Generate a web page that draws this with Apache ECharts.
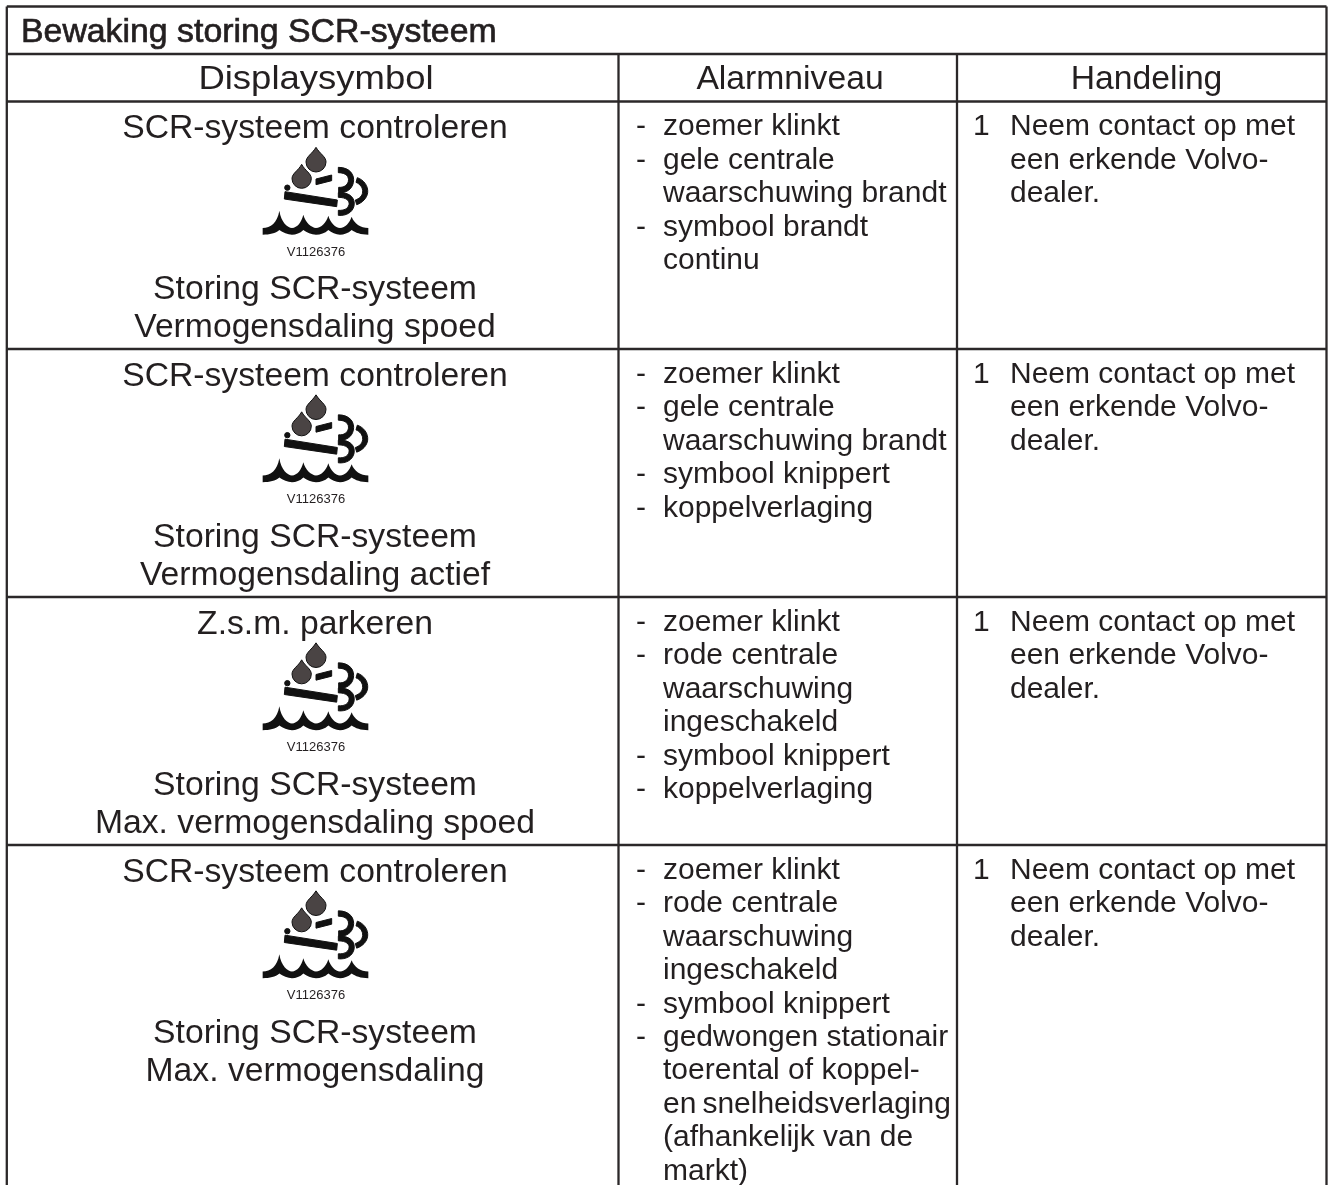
<!DOCTYPE html>
<html>

<head>
    <meta charset="utf-8">
    <title>Bewaking storing SCR-systeem</title>
    <style>
        html, body { margin: 0; padding: 0; background: #fff; }
    </style>
</head>

<body>
    <div id="main" style="width: 1331px;height:1185px;"></div>

    <script src="https://cdnjs.cloudflare.com/ajax/libs/echarts/6.0.0/echarts.min.js"></script>
    <script>
        var title = 'Bewaking storing SCR-systeem';
        var columns = ['Displaysymbol', 'Alarmniveau', 'Handeling'];
        var symbolTop = ['SCR-systeem controleren', 'SCR-systeem controleren', 'Z.s.m. parkeren', 'SCR-systeem controleren'];
        var symbolCode = 'V1126376';
        var symbolBottom = [
            ['Storing SCR-systeem', 'Vermogensdaling spoed'],
            ['Storing SCR-systeem', 'Vermogensdaling actief'],
            ['Storing SCR-systeem', 'Max. vermogensdaling spoed'],
            ['Storing SCR-systeem', 'Max. vermogensdaling']
        ];
        // '- ' at the start of a line means a new bullet
        var alarms = [
            ['- zoemer klinkt', '- gele centrale', 'waarschuwing brandt', '- symbool brandt', 'continu'],
            ['- zoemer klinkt', '- gele centrale', 'waarschuwing brandt', '- symbool knippert', '- koppelverlaging'],
            ['- zoemer klinkt', '- rode centrale', 'waarschuwing', 'ingeschakeld', '- symbool knippert', '- koppelverlaging'],
            ['- zoemer klinkt', '- rode centrale', 'waarschuwing', 'ingeschakeld', '- symbool knippert', '- gedwongen stationair',
                'toerental of koppel-', 'en\u2009snelheidsverlaging', '(afhankelijk van de', 'markt)']
        ];
        var actionNumber = '1';
        var actionLines = ['Neem contact op met', 'een erkende Volvo-', 'dealer.'];

        // layout of the table
        var W = 1331, H = 1185;
        var left = 6.8, right = 1326.5, top_ = 6.5;
        var col1 = 618.5, col2 = 957;
        var titleBottom = 54, headBottom = 101.5;
        var rowTops = [101.5, 349, 597, 845];
        var pitch = 33.45;
        var ink = '#231f20';

        var lines = [
            [left, top_, right, top_], [left, top_, left, H], [right, top_, right, H],
            [left, titleBottom, right, titleBottom], [left, headBottom, right, headBottom],
            [col1, titleBottom, col1, H], [col2, titleBottom, col2, H]
        ];
        rowTops.slice(1).forEach(function (y) { lines.push([left, y, right, y]); });

        var texts = [];
        function addText(x, y, s, size, align, bold, stretch) { texts.push([x, y, s, size, align, bold ? 1 : 0, stretch || 1]); }
        addText(21, 33, title, 33.85, 'left', true);
        // the canvas kerns this word much tighter than the original
        addText(316, 80, columns[0], 33.7, 'center', false, 1.083);
        addText(790, 80, columns[1], 33.7, 'center');
        addText(1146.5, 80, columns[2], 33.7, 'center');
        rowTops.forEach(function (t, i) {
            addText(315, t + 27.5, symbolTop[i], 33.7, 'center');
            addText(316, t + 150.5, symbolCode, 13, 'center');
            addText(315, t + 188.5, symbolBottom[i][0], 33.7, 'center');
            addText(315, t + 226.5, symbolBottom[i][1], 33.7, 'center');
            alarms[i].forEach(function (s, k) {
                var y = t + 25.5 + k * pitch;
                if (s.indexOf('- ') === 0) {
                    addText(636, y, '-', 30, 'left');
                    s = s.slice(2);
                }
                addText(663, y, s, 30, 'left');
            });
            addText(973, t + 25.5, actionNumber, 30, 'left');
            actionLines.forEach(function (s, k) {
                addText(1010, t + 25.5 + k * pitch, s, 30, 'left');
            });
        });

        // icon is drawn in a 150x125 box at 3x, one item per shape
        var dropPath = 'M228 22C240 42 258 50 258 66A30 30 0 1 1 198 66C198 50 216 42 228 22Z'
            + 'M185 73C195 92 214 100 214 116A29 29 0 1 1 156 116C156 100 175 92 185 73Z';
        var barPath = 'M228 117L275 105L275 122L228 134Z'
            + 'M135 155L292 180L290 200L133 177Z'
            + 'M134 143A8 8 0 1 0 150 143A8 8 0 1 0 134 143Z';
        var arcPath = 'M295 82C330 82 345 105 340 128C336 148 318 160 296 158L296 142C312 143 322 136 325 124C328 110 318 98 295 98Z'
            + 'M295 158C330 156 347 175 342 198C337 218 318 228 295 226L295 211C312 212 324 206 327 194C330 182 318 172 295 172Z'
            + 'M352 113C372 120 385 138 383 158C381 174 368 188 350 194L346 180C358 176 367 168 368 156C369 143 360 132 348 127Z';
        var wavePath = 'M68 264C92 264 112 248 118 212C124 248 142 262 156 264C172 262 184 248 190 224C196 248 214 262 228 264'
            + 'C244 262 258 250 265 227C272 250 286 262 300 264C316 262 328 250 335 230C342 250 362 264 385 264L385 284'
            + 'C362 284 346 278 335 270C324 280 312 284 300 284C288 284 274 278 265 270C254 280 242 284 228 284'
            + 'C214 284 200 278 190 270C180 280 168 284 156 284C144 284 128 278 118 270C106 280 90 284 68 284Z';
        var iconParts = [
            { d: dropPath, fill: '#4a4444', stroke: '#111' },
            { d: barPath, fill: '#111', stroke: '#111' },
            { d: arcPath, fill: '#111', stroke: '#111' },
            { d: wavePath, fill: '#111' }
        ];

        var myChart = echarts.init(document.getElementById('main'), null, { renderer: 'canvas' });

        var option = {
            animation: false,
            backgroundColor: '#fff',
            grid: { left: 0, right: 0, top: 0, bottom: 0 },
            xAxis: { type: 'value', min: 0, max: W, show: false },
            yAxis: { type: 'value', min: 0, max: H, inverse: true, show: false },
            series: [{
                name: 'rules',
                type: 'custom',
                silent: true,
                data: lines,
                renderItem: function (params, api) {
                    var a = api.coord([api.value(0), api.value(1)]);
                    var b = api.coord([api.value(2), api.value(3)]);
                    return {
                        type: 'line',
                        shape: { x1: a[0], y1: a[1], x2: b[0], y2: b[1] },
                        style: { stroke: '#2b2829', lineWidth: 2.3 }
                    };
                }
            }, {
                name: 'icons',
                type: 'custom',
                silent: true,
                data: rowTops,
                renderItem: function (params, api) {
                    var p = api.coord([240, api.value(0) + 38.5]);
                    return {
                        type: 'group',
                        children: iconParts.map(function (part) {
                            return {
                                type: 'path',
                                x: p[0],
                                y: p[1],
                                scaleX: 1 / 3,
                                scaleY: 1 / 3,
                                shape: { pathData: part.d },
                                style: { fill: part.fill, stroke: part.stroke || null, lineWidth: 3 }
                            };
                        })
                    };
                }
            }, {
                name: 'texts',
                type: 'custom',
                silent: true,
                data: texts,
                renderItem: function (params, api) {
                    var item = texts[params.dataIndex];
                    var p = api.coord([item[0], item[1]]);
                    return {
                        type: 'text',
                        x: p[0],
                        y: p[1],
                        scaleX: item[6],
                        style: {
                            text: item[2],
                            fill: ink,
                            font: item[3] + 'px "Liberation Sans"',
                            align: item[4],
                            verticalAlign: 'middle',
                            stroke: item[5] ? ink : null,
                            lineWidth: item[5] ? 0.7 : 0
                        }
                    };
                }
            }]
        };
        myChart.setOption(option);
    </script>
</body>

</html>
